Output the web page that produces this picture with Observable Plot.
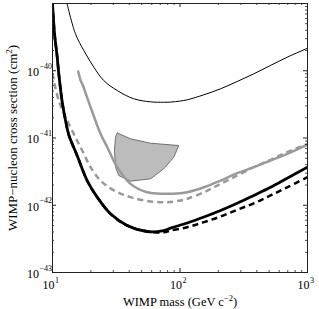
<!DOCTYPE html>
<html><head><meta charset="utf-8">
<script src="https://cdn.jsdelivr.net/npm/d3@7"></script>
<script src="https://cdn.jsdelivr.net/npm/@observablehq/plot@0.6"></script>
<style>html,body{margin:0;padding:0;background:#fff}</style>
</head><body><div id="chart"></div>
<script>
// ---- data (WIMP mass in GeV c^-2, cross section in cm^2) ----
const thinMass  = [13.0, 15.1, 17.6, 21.1, 25.2, 32.2, 43.4, 58.7, 74.2, 84.2, 101, 114, 154, 208, 281, 379, 513, 693, 1000];
const thinSigma = [1.0e-39, 3.58e-40, 2.0e-40, 1.13e-40, 7.16e-41, 5.08e-41, 3.83e-41, 3.45e-41, 3.40e-41, 3.42e-41, 3.55e-41, 3.70e-41, 4.39e-41, 5.39e-41, 6.92e-41, 9.0e-41, 1.20e-40, 1.59e-40, 2.16e-40];

const blackMass  = [10, 10.37, 10.85, 11.24, 11.87, 12.65, 13.47, 15.6, 18.7, 22.4, 28.5, 38.5, 55.3, 74.6, 84.2, 114, 154, 208, 281, 379, 513, 693, 1000];
const blackSigma = [1e-39, 3.58e-40, 1.69e-40, 8.5e-41, 3.61e-41, 1.82e-41, 1.09e-41, 5.49e-42, 2.33e-42, 1.32e-42, 7.46e-43, 5.0e-43, 4.07e-43, 4.21e-43, 4.56e-43, 5.45e-43, 6.69e-43, 8.36e-43, 1.07e-42, 1.40e-42, 1.85e-42, 2.52e-42, 3.68e-42];

const blackDashMass  = [10, 10.37, 10.85, 11.24, 11.87, 12.65, 13.47, 15.6, 18.7, 22.4, 28.5, 38.5, 55.3, 74.6, 84.2, 114, 154, 208, 281, 379, 513, 693, 1000];
const blackDashSigma = [1e-39, 3.58e-40, 1.69e-40, 8.5e-41, 3.61e-41, 1.82e-41, 1.09e-41, 5.49e-42, 2.33e-42, 1.32e-42, 7.46e-43, 5.0e-43, 4.07e-43, 3.97e-43, 4.21e-43, 4.72e-43, 5.6e-43, 6.8e-43, 8.55e-43, 1.07e-42, 1.40e-42, 1.85e-42, 2.61e-42];

const greyMass  = [15.9, 16.6, 17.1, 19.9, 23.8, 26.9, 32.2, 40.9, 55.3, 74.6, 101, 114, 154, 208, 281, 379, 513, 693, 1000];
const greySigma = [9.75e-41, 7.2e-41, 6.4e-41, 2.87e-41, 1.155e-41, 7.3e-42, 3.68e-42, 2.08e-42, 1.56e-42, 1.48e-42, 1.51e-42, 1.56e-42, 1.85e-42, 2.33e-42, 3.0e-42, 3.68e-42, 4.63e-42, 5.82e-42, 8.0e-42];

const greyDashMass  = [10, 11.2, 14.6, 17.1, 19.9, 23.8, 30.3, 40.9, 58.7, 79.4, 101, 114, 154, 208, 281, 379, 513, 693, 1000];
const greyDashSigma = [9.1e-41, 3.61e-41, 1.17e-41, 6.52e-42, 3.68e-42, 2.33e-42, 1.66e-42, 1.32e-42, 1.14e-42, 1.11e-42, 1.18e-42, 1.25e-42, 1.56e-42, 2.08e-42, 2.77e-42, 3.68e-42, 4.74e-42, 6.15e-42, 8.2e-42];

const shadeMass  = [32.2, 40.9, 58.7, 97.9, 89.4, 74.6, 58.7, 40.9, 33.1, 31.2, 30.6, 31.2, 32.2];
const shadeSigma = [1.19e-41, 9.73e-42, 8.37e-42, 7.73e-42, 5.18e-42, 3.48e-42, 2.47e-42, 2.28e-42, 2.77e-42, 3.68e-42, 6.52e-42, 1.03e-41, 1.19e-41];

// ---- ticks & labels ----
const xMajorTicks = [10, 100, 1000];
const xMinorTicks = [20, 30, 40, 50, 60, 70, 80, 90, 200, 300, 400, 500, 600, 700, 800, 900];
const xTickExponents = ["1", "2", "3"];
const yMajorTicks = [1e-43, 1e-42, 1e-41, 1e-40, 1e-39];
const yMinorTicks = [2e-43,3e-43,4e-43,5e-43,6e-43,7e-43,8e-43,9e-43,
                     2e-42,3e-42,4e-42,5e-42,6e-42,7e-42,8e-42,9e-42,
                     2e-41,3e-41,4e-41,5e-41,6e-41,7e-41,8e-41,9e-41,
                     2e-40,3e-40,4e-40,5e-40,6e-40,7e-40,8e-40,9e-40];
const yLabelTicks = [1e-43, 1e-42, 1e-41, 1e-40];
const yTickExponents = ["−43", "−42", "−41", "−40"];
const xTitleParts = ["WIMP mass (GeV c", "−2", ")"];
const yTitleParts = ["WIMP−nucleon cross section (cm", "2", ")"];

const rows = (m, s) => m.map((v, i) => ({mass: v, sigma: s[i]}));

const W = 319, H = 309, mL = 52, mR = 12, mT = 3, mB = 37;
const plotW = W - mL - mR, plotH = H - mT - mB;
const tickCol = "#222";
const txt = {fill: "#000", lineAnchor: "middle"};

const chart = Plot.plot({
  width: W, height: H,
  marginLeft: mL, marginRight: mR, marginTop: mT, marginBottom: mB,
  style: {fontFamily: '"Liberation Serif", "Times New Roman", serif', background: "#fff", color: "#000"},
  x: {type: "log", domain: [10, 1000], axis: null},
  y: {type: "log", domain: [1e-43, 1e-39], axis: null},
  marks: [
    Plot.line(rows(shadeMass, shadeSigma), {x: "mass", y: "sigma", fill: "#bcbcbc", stroke: "#555", strokeWidth: 0.8}),
    Plot.line(rows(thinMass, thinSigma), {x: "mass", y: "sigma", stroke: "#000", strokeWidth: 1, curve: "catmull-rom", clip: true}),
    Plot.line(rows(greyDashMass, greyDashSigma), {x: "mass", y: "sigma", stroke: "#9a9a9a", strokeWidth: 2.5, strokeDasharray: "6,4", strokeLinecap: "butt", curve: "catmull-rom", clip: true}),
    Plot.line(rows(greyMass, greySigma), {x: "mass", y: "sigma", stroke: "#9a9a9a", strokeWidth: 2.5, curve: "catmull-rom", clip: true}),
    Plot.line(rows(blackDashMass, blackDashSigma), {x: "mass", y: "sigma", stroke: "#000", strokeWidth: 2.5, strokeDasharray: "6,4", strokeLinecap: "butt", curve: "catmull-rom", clip: true}),
    Plot.line(rows(blackMass, blackSigma), {x: "mass", y: "sigma", stroke: "#000", strokeWidth: 2.8, curve: "catmull-rom", clip: true}),
    Plot.frame({stroke: tickCol, strokeWidth: 1}),
    // inward ticks on all four sides
    Plot.tickX(xMajorTicks, {x: d => d, insetTop: plotH - 4, stroke: tickCol}),
    Plot.tickX(xMajorTicks, {x: d => d, insetBottom: plotH - 4, stroke: tickCol}),
    Plot.tickX(xMinorTicks, {x: d => d, insetTop: plotH - 2, stroke: tickCol, strokeWidth: 0.8}),
    Plot.tickX(xMinorTicks, {x: d => d, insetBottom: plotH - 2, stroke: tickCol, strokeWidth: 0.8}),
    Plot.tickY(yMajorTicks, {y: d => d, insetRight: plotW - 4, stroke: tickCol}),
    Plot.tickY(yMajorTicks, {y: d => d, insetLeft: plotW - 4, stroke: tickCol}),
    Plot.tickY(yMinorTicks, {y: d => d, insetRight: plotW - 2, stroke: tickCol, strokeWidth: 0.8}),
    Plot.tickY(yMinorTicks, {y: d => d, insetLeft: plotW - 2, stroke: tickCol, strokeWidth: 0.8}),
    // x tick labels
    Plot.text(xMajorTicks, {...txt, x: d => d, frameAnchor: "bottom", text: () => "10", textAnchor: "end", dx: 2, dy: 13, fontSize: 12}),
    Plot.text(xMajorTicks, {...txt, x: d => d, frameAnchor: "bottom", text: (d, i) => xTickExponents[i], textAnchor: "start", dx: 2.5, dy: 8, fontSize: 8}),
    // y tick labels
    Plot.text(yLabelTicks, {...txt, y: d => d, frameAnchor: "left", text: () => "10", textAnchor: "end", dx: -13.5, dy: 1.5, fontSize: 12}),
    Plot.text(yLabelTicks, {...txt, y: d => d, frameAnchor: "left", text: (d, i) => yTickExponents[i], textAnchor: "start", dx: -13, dy: -4.5, fontSize: 8}),
    // axis titles
    Plot.text([xTitleParts.join("")], {...txt, frameAnchor: "bottom", textAnchor: "middle", text: d => d, dy: 29, fontSize: 12.5}),
    Plot.text([yTitleParts.join("")], {...txt, frameAnchor: "left", textAnchor: "middle", text: d => d, rotate: -90, dx: -40, fontSize: 13})
  ]
});

// turn the exponent part of the axis titles into raised, smaller text
function superscript(parts, size) {
  const full = parts.join("");
  chart.querySelectorAll("text").forEach(t => {
    if (t.textContent !== full) return;
    t.textContent = parts[0];
    const sup = document.createElementNS("http://www.w3.org/2000/svg", "tspan");
    sup.setAttribute("dy", "-5");
    sup.setAttribute("font-size", size);
    sup.textContent = parts[1];
    const tail = document.createElementNS("http://www.w3.org/2000/svg", "tspan");
    tail.setAttribute("dy", "5");
    tail.textContent = parts[2];
    t.appendChild(sup);
    t.appendChild(tail);
  });
}
superscript(xTitleParts, 8.5);
superscript(yTitleParts, 9);

document.getElementById("chart").appendChild(chart);
</script>
</body></html>
